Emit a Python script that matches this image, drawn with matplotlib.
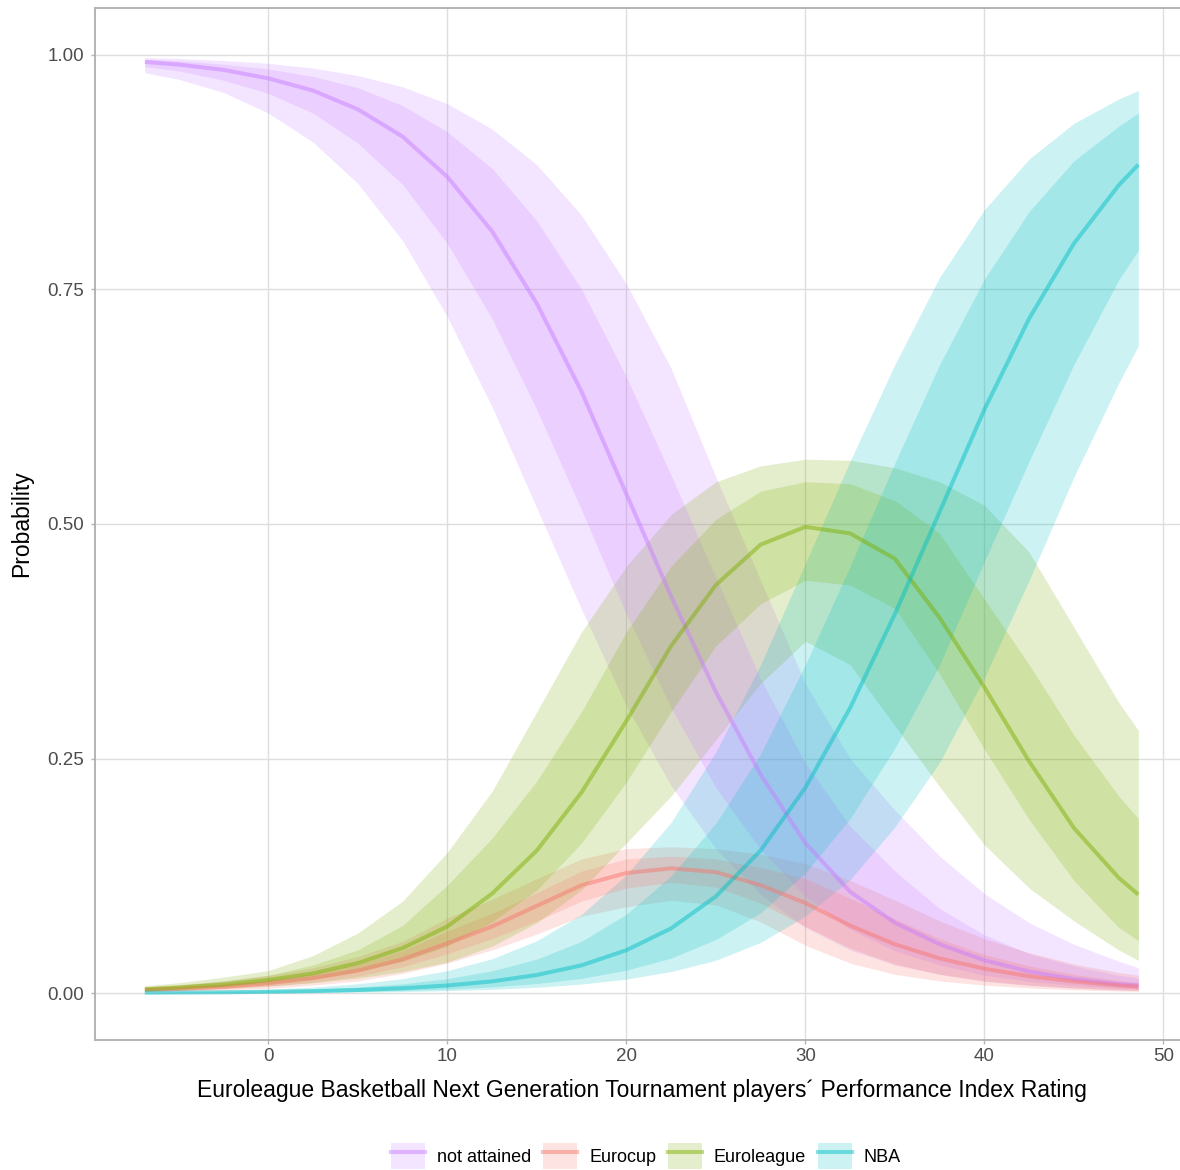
import matplotlib
matplotlib.use("Agg")
import matplotlib.pyplot as plt
from matplotlib.patches import Patch
from matplotlib.lines import Line2D

plt.rcParams["font.family"] = ["Liberation Sans", "DejaVu Sans"]

# Performance Index Rating grid
pir = [-6.9, -5, -2.5, 0, 2.5, 5, 7.5, 10, 12.5, 15, 17.5, 20, 22.5, 25,
       27.5, 30, 32.5, 35, 37.5, 40, 42.5, 45, 47.5, 48.6]

# not attained
na_mean = [0.9925, 0.9897, 0.984, 0.975, 0.962, 0.942, 0.913, 0.870, 0.812, 0.735, 0.641, 0.532,
           0.423, 0.321, 0.233, 0.160, 0.108, 0.075, 0.052, 0.035, 0.023, 0.015, 0.0095, 0.008]
na_lo95 = [0.981, 0.974, 0.960, 0.938, 0.907, 0.863, 0.802, 0.721, 0.625, 0.517, 0.409, 0.306,
           0.221, 0.154, 0.105, 0.070, 0.046, 0.030, 0.020, 0.0126, 0.0082, 0.0053, 0.0034, 0.0028]
na_lo80 = [0.9875, 0.983, 0.973, 0.959, 0.938, 0.906, 0.862, 0.799, 0.719, 0.622, 0.515, 0.404,
           0.304, 0.219, 0.153, 0.103, 0.068, 0.045, 0.030, 0.019, 0.0125, 0.0081, 0.0052, 0.0043]
na_hi80 = [0.9955, 0.9938, 0.990, 0.985, 0.977, 0.965, 0.946, 0.918, 0.879, 0.823, 0.750, 0.657,
           0.552, 0.443, 0.335, 0.245, 0.178, 0.130, 0.090, 0.062, 0.042, 0.029, 0.019, 0.016]
na_hi95 = [0.9972, 0.9962, 0.994, 0.991, 0.986, 0.978, 0.966, 0.948, 0.921, 0.883, 0.829, 0.756,
           0.666, 0.550, 0.440, 0.330, 0.250, 0.195, 0.146, 0.106, 0.075, 0.052, 0.034, 0.027]

# Eurocup
ec_mean = [0.0035, 0.0045, 0.0068, 0.0105, 0.016, 0.024, 0.036, 0.053, 0.071, 0.093, 0.115, 0.128,
           0.133, 0.129, 0.115, 0.096, 0.072, 0.052, 0.037, 0.026, 0.018, 0.0125, 0.0082, 0.0068]
ec_lo95 = [0.0015, 0.002, 0.0032, 0.0052, 0.0085, 0.013, 0.021, 0.032, 0.046, 0.063, 0.082, 0.092,
           0.099, 0.094, 0.076, 0.051, 0.032, 0.020, 0.013, 0.0085, 0.0055, 0.0035, 0.0022, 0.0018]
ec_lo80 = [0.0022, 0.003, 0.0046, 0.0074, 0.0115, 0.018, 0.028, 0.042, 0.058, 0.077, 0.098, 0.112,
           0.118, 0.113, 0.096, 0.071, 0.048, 0.031, 0.020, 0.013, 0.0085, 0.0055, 0.0035, 0.0028]
ec_hi80 = [0.005, 0.0065, 0.0095, 0.0145, 0.021, 0.031, 0.045, 0.066, 0.085, 0.107, 0.130, 0.143,
           0.146, 0.143, 0.134, 0.122, 0.101, 0.079, 0.058, 0.041, 0.029, 0.020, 0.0135, 0.0115]
ec_hi95 = [0.007, 0.009, 0.013, 0.019, 0.027, 0.039, 0.055, 0.080, 0.100, 0.122, 0.143, 0.154,
           0.156, 0.154, 0.148, 0.138, 0.120, 0.099, 0.077, 0.058, 0.043, 0.031, 0.022, 0.019]

# Euroleague
el_mean = [0.004, 0.006, 0.009, 0.014, 0.021, 0.032, 0.048, 0.071, 0.106, 0.152, 0.214, 0.290,
           0.370, 0.435, 0.478, 0.497, 0.490, 0.463, 0.400, 0.326, 0.247, 0.176, 0.123, 0.105]
el_lo95 = [0.002, 0.003, 0.005, 0.0075, 0.011, 0.016, 0.023, 0.033, 0.050, 0.075, 0.110, 0.160,
           0.210, 0.270, 0.330, 0.375, 0.350, 0.285, 0.220, 0.158, 0.112, 0.077, 0.046, 0.035]
el_lo80 = [0.003, 0.0045, 0.007, 0.010, 0.015, 0.023, 0.034, 0.050, 0.076, 0.110, 0.160, 0.225,
           0.300, 0.370, 0.415, 0.440, 0.435, 0.410, 0.340, 0.260, 0.185, 0.120, 0.070, 0.056]
el_hi80 = [0.006, 0.008, 0.013, 0.019, 0.030, 0.046, 0.072, 0.115, 0.165, 0.226, 0.300, 0.385,
           0.455, 0.505, 0.535, 0.545, 0.543, 0.525, 0.490, 0.420, 0.350, 0.275, 0.210, 0.186]
el_hi95 = [0.008, 0.011, 0.017, 0.024, 0.040, 0.064, 0.098, 0.150, 0.215, 0.300, 0.385, 0.455,
           0.510, 0.545, 0.562, 0.569, 0.568, 0.560, 0.545, 0.520, 0.470, 0.390, 0.310, 0.280]

# NBA
nba_mean = [0.0004, 0.0006, 0.0009, 0.0014, 0.0021, 0.0033, 0.0052, 0.0081, 0.0125, 0.0193, 0.0296, 0.0457,
            0.069, 0.103, 0.152, 0.219, 0.304, 0.404, 0.513, 0.622, 0.719, 0.799, 0.861, 0.883]
nba_lo95 = [0.0001, 0.0002, 0.0003, 0.0004, 0.0007, 0.0011, 0.0016, 0.0026, 0.004, 0.0062, 0.0096, 0.0149,
            0.023, 0.035, 0.054, 0.082, 0.121, 0.177, 0.246, 0.336, 0.440, 0.550, 0.650, 0.690]
nba_lo80 = [0.0002, 0.0003, 0.0005, 0.0007, 0.0011, 0.0017, 0.0027, 0.0042, 0.0066, 0.0102, 0.0157, 0.0244,
            0.0373, 0.057, 0.0855, 0.128, 0.186, 0.261, 0.350, 0.460, 0.567, 0.670, 0.760, 0.792]
nba_hi80 = [0.0008, 0.0011, 0.0017, 0.0027, 0.0041, 0.0064, 0.0099, 0.0154, 0.0237, 0.0362, 0.0552, 0.084,
            0.125, 0.181, 0.255, 0.350, 0.455, 0.565, 0.670, 0.761, 0.833, 0.887, 0.924, 0.938]
nba_hi95 = [0.0012, 0.0017, 0.0027, 0.0042, 0.0064, 0.0099, 0.0154, 0.0239, 0.0366, 0.0558, 0.0839, 0.126,
            0.182, 0.257, 0.350, 0.458, 0.567, 0.670, 0.763, 0.835, 0.889, 0.927, 0.953, 0.962]

labels = ["not attained", "Eurocup", "Euroleague", "NBA"]
colors = ["#C77CFF", "#F8766D", "#7CAE00", "#00BFC4"]

series = [
    (na_lo95, na_lo80, na_mean, na_hi80, na_hi95),
    (ec_lo95, ec_lo80, ec_mean, ec_hi80, ec_hi95),
    (el_lo95, el_lo80, el_mean, el_hi80, el_hi95),
    (nba_lo95, nba_lo80, nba_mean, nba_hi80, nba_hi95),
]

BAND_ALPHA = 0.2
LINE_ALPHA = 0.48
LW = 2.9

fig = plt.figure(figsize=(11.8, 11.7), dpi=100)
ax = fig.add_axes([95 / 1180, 130 / 1170, 1094 / 1180, 1032 / 1170])

# outer ribbons, then inner ribbons, then the lines on top
for col, (lo95, lo80, mean, hi80, hi95) in zip(colors, series):
    ax.fill_between(pir, lo95, hi95, color=col, alpha=BAND_ALPHA, lw=0)
for col, (lo95, lo80, mean, hi80, hi95) in zip(colors, series):
    ax.fill_between(pir, lo80, hi80, color=col, alpha=BAND_ALPHA, lw=0)
for col, (lo95, lo80, mean, hi80, hi95) in zip(colors, series):
    ax.plot(pir, mean, color=col, alpha=LINE_ALPHA, lw=LW, solid_capstyle="butt")

ax.set_xlim(-9.68, 51.43)
ax.set_ylim(-0.05, 1.05)
ax.set_xticks([0, 10, 20, 30, 40, 50])
ax.set_yticks([0, 0.25, 0.5, 0.75, 1.0])
ax.set_yticklabels(["0.00", "0.25", "0.50", "0.75", "1.00"])

ax.set_axisbelow(True)
ax.grid(True, color="#DEDEDE", lw=1)
for sp in ax.spines.values():
    sp.set_color("#B3B3B3")
    sp.set_linewidth(1.4)
ax.tick_params(colors="#B3B3B3", labelcolor="#4D4D4D", labelsize=13.5, length=3, width=1)
ax.tick_params(axis="y", pad=5)
ax.tick_params(axis="x", pad=3)

ax.set_xlabel("Euroleague Basketball Next Generation Tournament players\u00b4 Performance Index Rating",
              fontsize=16.5, color="black", labelpad=10)
ax.set_ylabel("Probability", fontsize=16.5, color="black", labelpad=10)

handles = []
for col in colors:
    handles.append((Patch(facecolor=col, alpha=BAND_ALPHA, edgecolor="none"),
                    Line2D([], [], color=col, alpha=LINE_ALPHA, lw=LW)))
fig.legend(handles, labels, loc="center", bbox_to_anchor=(0.5475, 0.012), ncol=4, frameon=False,
           fontsize=13, handlelength=1.9, handleheight=1.9, handletextpad=0.65, columnspacing=0.65,
           borderpad=0)

fig.savefig("out.png", dpi=100)
